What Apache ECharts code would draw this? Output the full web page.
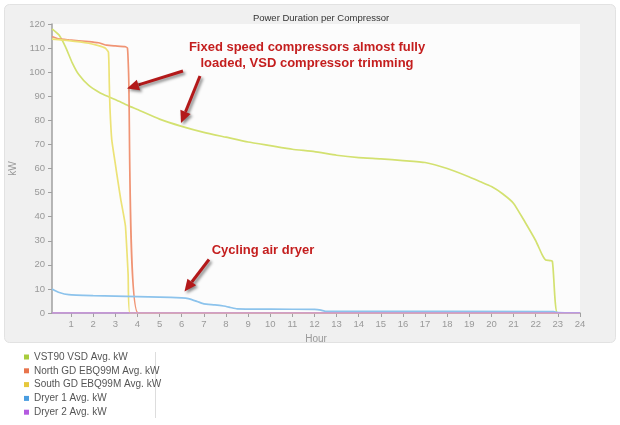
<!DOCTYPE html>
<html>
<head>
<meta charset="utf-8">
<script src="https://cdn.jsdelivr.net/npm/echarts@6/dist/echarts.min.js"></script>
<style>
  html, body { margin: 0; padding: 0; background: #fff; }
  #chart { width: 620px; height: 425px; }
</style>
</head>
<body>
<div id="chart"></div>
<script>
// hours / kW
const vstHours = [0.14, 0.45, 0.75, 1.05, 1.35, 1.8, 2.3, 2.7, 3.2, 3.6, 4, 5, 6, 7, 8, 9, 10, 11, 12, 13, 14, 15, 16, 17, 18, 19, 19.5, 20, 20.5, 21, 21.5, 22, 22.3, 22.45, 22.75, 22.98, 24]
const vstKw = [118, 115.5, 110.5, 104, 99, 94.5, 91.5, 89.8, 87.8, 86, 84.5, 80.5, 77.5, 75, 73, 71, 69.5, 68, 67, 65.5, 64.5, 64, 63.3, 62.5, 60, 56.5, 54.5, 52.5, 49.5, 45.5, 38, 30, 24, 22, 21.5, 0, 0]

const northHours = [0.14, 0.45, 0.9, 1.8, 2.24, 2.45, 2.61, 3.0, 3.43, 3.55, 3.6, 4.03, 24]
const northKw = [114.8, 113.8, 113.4, 112.7, 112.2, 111.6, 111.2, 110.9, 110.6, 110, 100, 0, 0]

const southHours = [0.14, 0.9, 1.8, 2.24, 2.54, 2.69, 2.73, 2.76, 2.84, 3.0, 3.13, 3.25, 3.36, 3.46, 3.58, 3.66, 24]
const southKw = [113.7, 113.1, 112, 111, 110, 108.3, 95, 85, 72, 62, 54, 47, 41.5, 36, 16, 0, 0]

const dryer1Hours = [0.14, 0.47, 0.9, 2, 3, 4, 5, 6, 6.3, 6.7, 7, 7.5, 7.9, 8.2, 8.5, 10, 12, 12.3, 12.5, 22.8, 23, 24]
const dryer1Kw = [10, 8.5, 7.6, 7.2, 7, 6.8, 6.6, 6.3, 6, 4.8, 3.8, 3.4, 2.9, 2.3, 1.7, 1.6, 1.5, 1.2, 0.7, 0.6, 0.2, 0.1]

const dryer2Hours = [0.14, 24]
const dryer2Kw = [0, 0]

const seriesNames = ['VST90 VSD Avg. kW', 'North GD EBQ99M Avg. kW', 'South GD EBQ99M Avg. kW', 'Dryer 1 Avg. kW', 'Dryer 2 Avg. kW']
const hourTicks = [1, 2, 3, 4, 5, 6, 7, 8, 9, 10, 11, 12, 13, 14, 15, 16, 17, 18, 19, 20, 21, 22, 23, 24]

const lineColors = ['#d3e170', '#f09474', '#ece276', '#8cc3ec', '#c98ee0']
const markColors = ['#a8cc3c', '#e8744c', '#e6c83c', '#4a9de0', '#b45ae0']

const pairs = (xs, ys) => xs.map((x, i) => [x, ys[i]])
const allData = [
  pairs(vstHours, vstKw),
  pairs(northHours, northKw),
  pairs(southHours, southKw),
  pairs(dryer1Hours, dryer1Kw),
  pairs(dryer2Hours, dryer2Kw)
]

const chart = echarts.init(document.getElementById('chart'))

const arrowColor = '#b3191a'
const arrow = (x1, y1, x2, y2) => {
  const ang = Math.atan2(y2 - y1, x2 - x1)
  const len = 12, half = 5.5
  const bx = x2 - len * Math.cos(ang), by = y2 - len * Math.sin(ang)
  const px = -Math.sin(ang) * half, py = Math.cos(ang) * half
  const shadow = { shadowBlur: 3, shadowColor: 'rgba(0,0,0,0.45)', shadowOffsetX: 2, shadowOffsetY: 2 }
  return [
    {
      type: 'line', z: 100,
      shape: { x1: x1, y1: y1, x2: bx, y2: by },
      style: Object.assign({ stroke: arrowColor, lineWidth: 3 }, shadow)
    },
    {
      type: 'polygon', z: 100,
      shape: { points: [[x2, y2], [bx + px, by + py], [bx - px, by - py]] },
      style: Object.assign({ fill: arrowColor }, shadow)
    }
  ]
}

const annoFont = 'bold 13px "Liberation Sans", Arial, sans-serif'

const option = {
  backgroundColor: '#ffffff',
  animation: false,
  title: {
    text: 'Power Duration per Compressor',
    left: 316,
    textAlign: 'center',
    top: 8,
    textStyle: { fontSize: 9.5, fontWeight: 'normal', color: '#333', fontFamily: 'Liberation Sans' }
  },
  grid: {
    left: 43,
    right: 40,
    top: 24,
    bottom: 112,
    show: true,
    backgroundColor: '#fcfcfc',
    borderWidth: 0
  },
  legend: {
    orient: 'vertical',
    left: 24,
    top: 352,
    padding: 0,
    itemWidth: 5,
    itemHeight: 5,
    itemGap: 3.8,
    icon: 'rect',
    textStyle: { fontSize: 10, color: '#555', fontFamily: 'Liberation Sans', lineHeight: 10 },
    data: seriesNames.map((n, i) => ({ name: n, itemStyle: { color: markColors[i] } }))
  },
  xAxis: {
    type: 'value',
    min: 0.14,
    max: 24,
    name: 'Hour',
    nameLocation: 'middle',
    nameGap: 17,
    nameTextStyle: { fontSize: 10, color: '#999', fontFamily: 'Liberation Sans' },
    axisLine: { lineStyle: { color: '#a0a0a0', width: 1.5 } },
    axisTick: { customValues: hourTicks, length: 4, lineStyle: { color: '#a0a0a0' } },
    axisLabel: { customValues: hourTicks, fontSize: 9.5, color: '#999', margin: 6, fontFamily: 'Liberation Sans' },
    splitLine: { show: false }
  },
  yAxis: {
    type: 'value',
    min: 0,
    max: 120,
    interval: 10,
    name: 'kW',
    nameLocation: 'middle',
    nameGap: 34,
    nameTextStyle: { fontSize: 10, color: '#999', fontFamily: 'Liberation Sans' },
    axisLine: { show: true, lineStyle: { color: '#a0a0a0', width: 1.5 } },
    axisTick: { show: true, length: 4, lineStyle: { color: '#a0a0a0' } },
    axisLabel: { fontSize: 9.5, color: '#999', margin: 7, fontFamily: 'Liberation Sans' },
    splitLine: { show: false }
  },
  series: allData.map((d, i) => ({
    name: seriesNames[i],
    type: 'line',
    data: d,
    showSymbol: false,
    symbol: 'none',
    smooth: 0.15,
    lineStyle: { color: lineColors[i], width: 1.7 },
    itemStyle: { color: markColors[i] }
  })),
  graphic: [
    {
      type: 'rect', z: -10, silent: true,
      shape: { x: 4.5, y: 4.5, width: 611, height: 338, r: 5 },
      style: { fill: '#f0f0f0', stroke: '#e2e2e2', lineWidth: 1 }
    },
    {
      type: 'line', z: -10, silent: true,
      shape: { x1: 155.5, y1: 352, x2: 155.5, y2: 418 },
      style: { stroke: '#dddddd', lineWidth: 1 }
    },
    {
      type: 'text', z: 100,
      style: {
        x: 307, y: 55, text: 'Fixed speed compressors almost fully\nloaded, VSD compressor trimming',
        textAlign: 'center', textVerticalAlign: 'middle', font: annoFont, fill: '#c41e1e', lineHeight: 16
      }
    },
    {
      type: 'text', z: 100,
      style: {
        x: 263, y: 250, text: 'Cycling air dryer',
        textAlign: 'center', textVerticalAlign: 'middle', font: annoFont, fill: '#c41e1e'
      }
    },
    ...arrow(183, 71, 127, 88.5),
    ...arrow(200, 76, 181, 123),
    ...arrow(209, 259.5, 184.5, 291.5)
  ]
}

chart.setOption(option)
</script>
</body>
</html>
